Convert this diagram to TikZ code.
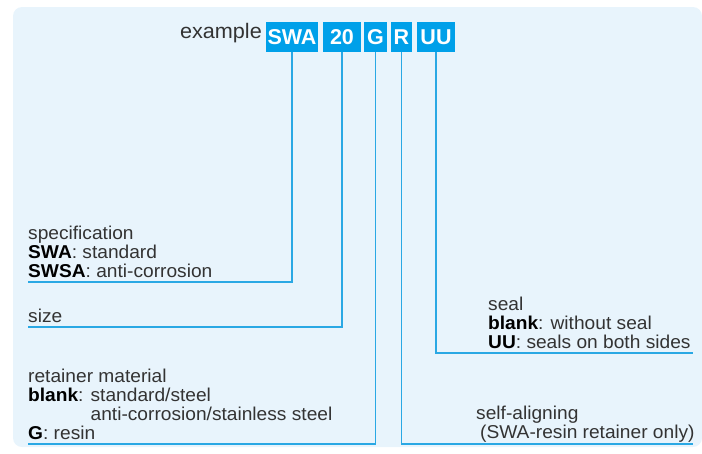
\documentclass[tikz,border=0pt]{standalone}
\usepackage{fontspec}
\setmainfont{Liberation Sans}[FakeStretch=1.03]
\newfontfamily\boxfont{Liberation Sans}
\definecolor{bgblue}{HTML}{E8F4FC}
\definecolor{boxblue}{HTML}{00A0E9}
\definecolor{lineblue}{HTML}{2AA8E4}
\definecolor{txtgray}{HTML}{333333}
\newcommand\kw[1]{{\color{black}\bfseries #1}}
\tikzset{
  codebox/.style={fill=boxblue, text=white, inner sep=0pt, minimum height=30pt,
    font=\boxfont\fontsize{21.5}{22}\selectfont\bfseries},
  desc/.style={anchor=base west, inner sep=0pt, align=left, text=txtgray,
    font=\fontsize{18.6}{18.6}\selectfont},
  leader/.style={draw=lineblue, line width=1.8pt}
}
\begin{document}
\begin{tikzpicture}[x=1pt,y=-1pt]
\useasboundingbox (0,0) rectangle (702,453);
\fill[bgblue, rounded corners=9pt] (13,7) rectangle (702,447);

\node[anchor=base east, inner sep=0pt, text=txtgray, font=\fontsize{21}{21}\selectfont] (ex) at (262,38) {example};
\node[codebox, minimum width=52pt] (swa) at (292,37) {SWA};
\node[codebox, minimum width=38pt] (n20) at (342,37) {20};
\node[codebox, minimum width=23pt] (g) at (375.5,37) {G};
\node[codebox, minimum width=21pt] (r) at (401.5,37) {R};
\node[codebox, minimum width=38pt] (uu) at (436,37) {UU};

\coordinate (c1) at (28,282);
\coordinate (c2) at (28,327);
\coordinate (c3) at (28,444);
\coordinate (c4) at (693,444);
\coordinate (c5) at (693,353);

\draw[leader] (swa.south) |- (c1);
\draw[leader] (n20.south) |- (c2);
\draw[leader] (g.south) |- (c3);
\draw[leader] (r.south) |- (c4);
\draw[leader] (uu.south) |- (c5);

% base anchor of a multi-line node = baseline of its last line
\node[desc] (spec) at (28,277) {specification\\ \kw{SWA}: standard\\ \kw{SWSA}: anti-corrosion};
\node[desc] (size) at (28,322) {size};
\node[desc, font=\fontsize{18.6}{18.7}\selectfont] (ret) at (28,439) {retainer material\\ \kw{blank}: standard/steel\\ \phantom{\kw{blank}: }anti-corrosion/stainless steel\\ \kw{G}: resin};
\node[desc] (seal) at (488,348) {seal\\ \kw{blank}: without seal\\ \kw{UU}: seals on both sides};
\node[desc] (self) at (476,438) {self-aligning\\ \hspace*{4pt}(SWA-resin retainer only)};
\end{tikzpicture}
\end{document}
